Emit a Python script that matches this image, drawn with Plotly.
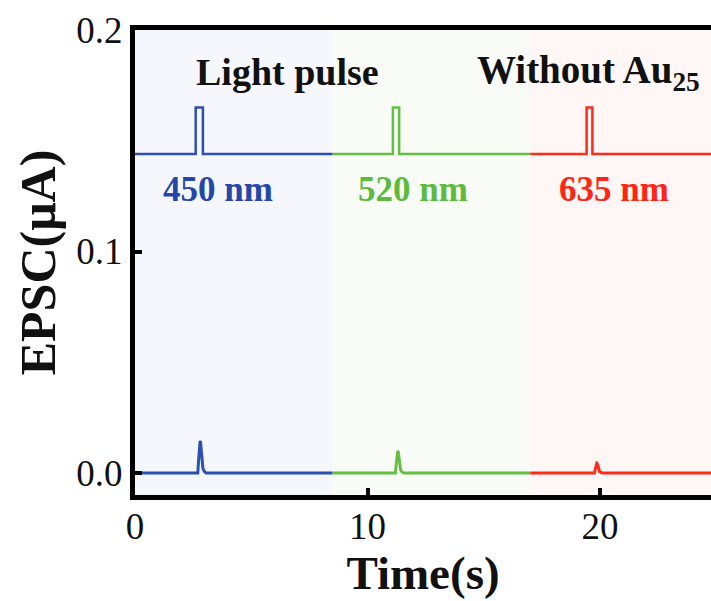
import plotly.graph_objects as go

# Wavelength segments (s) and their colours
wavelengths = ["450 nm", "520 nm", "635 nm"]
seg_start = [0.0, 8.5, 17.0]
seg_end = [8.5, 17.0, 25.5]
line_colors = ["#2c50b0", "#63bf44", "#ff2b1c"]
text_colors = ["#2447a8", "#5cbb3a", "#ff2414"]
bg_colors = ["#f5f7fd", "#f9fbf7", "#fff7f6"]

# Light pulse (upper trace): on/off times and levels (µA)
pulse_on = [2.61, 11.09, 19.42]
pulse_off = [2.92, 11.36, 19.67]
pulse_base = 0.144
pulse_high = 0.165

# EPSC response (lower trace): spike time offsets, relative shape and amplitudes (µA)
spike_dt = [-0.10, -0.07, -0.04, -0.02, 0.0, 0.02, 0.05, 0.08, 0.12, 0.18, 0.26]
spike_shape = [0.0, 0.35, 0.85, 0.97, 1.0, 0.96, 0.75, 0.38, 0.15, 0.05, 0.0]
spike_time = [2.80, 11.30, 19.86]
spike_peak = [0.0145, 0.0100, 0.0045]

x_ticks = [0, 10, 20]
y_ticks = [0.0, 0.1, 0.2]

fig = go.Figure()

for i in range(3):
    fig.add_shape(type="rect", xref="x", yref="paper",
                  x0=seg_start[i], x1=seg_end[i], y0=0, y1=1,
                  fillcolor=bg_colors[i], line_width=0, layer="below")

for i in range(3):
    px = [seg_start[i], pulse_on[i], pulse_on[i], pulse_off[i], pulse_off[i], seg_end[i]]
    py = [pulse_base, pulse_base, pulse_high, pulse_high, pulse_base, pulse_base]
    fig.add_trace(go.Scatter(x=px, y=py, mode="lines",
                             line=dict(color=line_colors[i], width=2.5),
                             showlegend=False, hoverinfo="skip"))

    ex = [seg_start[i]] + [spike_time[i] + d for d in spike_dt] + [seg_end[i]]
    ey = [0.0] + [spike_peak[i] * s for s in spike_shape] + [0.0]
    fig.add_trace(go.Scatter(x=ex, y=ey, mode="lines",
                             line=dict(color=line_colors[i], width=3),
                             showlegend=False, hoverinfo="skip"))

serif = "Liberation Serif, Times New Roman, serif"

fig.add_annotation(x=6.56, y=0.181, text="<b>Light pulse</b>", showarrow=False,
                   font=dict(family=serif, size=38, color="#111111"),
                   xanchor="center", yanchor="middle")
fig.add_annotation(x=19.5, y=0.181, text="<b>Without Au<sub>25</sub></b>", showarrow=False,
                   font=dict(family=serif, size=39, color="#111111"),
                   xanchor="center", yanchor="middle")

label_x = [3.59, 11.96, 20.58]
for i in range(3):
    fig.add_annotation(x=label_x[i], y=0.128, text="<b>" + wavelengths[i] + "</b>",
                       showarrow=False,
                       font=dict(family=serif, size=35, color=text_colors[i]),
                       xanchor="center", yanchor="middle")

fig.update_layout(
    width=711, height=601,
    margin=dict(l=135, r=0, t=30, b=106),
    paper_bgcolor="white", plot_bgcolor="white",
    font=dict(family=serif, color="#111111"),
)

fig.update_xaxes(
    range=[0, 24.77], tickvals=x_ticks, ticktext=[str(v) for v in x_ticks],
    ticks="inside", ticklen=7, tickwidth=4, tickcolor="black",
    showline=True, linewidth=5, linecolor="black", mirror=True,
    showgrid=False, zeroline=False, ticklabelstandoff=-5,
    tickfont=dict(family=serif, size=37, color="#111111"),
    title=dict(text="<b>Time(s)</b>", font=dict(family=serif, size=47, color="#111111"), standoff=8),
)
fig.update_yaxes(
    range=[-0.0099, 0.2], tickvals=y_ticks, ticktext=["0.0", "0.1", "0.2"],
    ticks="inside", ticklen=7, tickwidth=4, tickcolor="black",
    showline=True, linewidth=5, linecolor="black", mirror=False,
    showgrid=False, zeroline=False,
    tickfont=dict(family=serif, size=37, color="#111111"),
    title=dict(text="<b>EPSC(μA)</b>", font=dict(family=serif, size=50, color="#111111"), standoff=6),
)

fig.write_html("out.html")
